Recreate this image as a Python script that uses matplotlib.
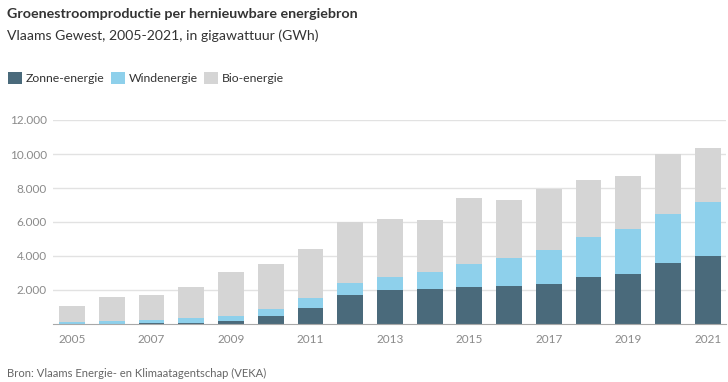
import matplotlib.pyplot as plt
from matplotlib.patches import Patch
import numpy as np

years = list(range(2005, 2022))
# GWh per bron
zonne = [10, 20, 30, 50, 170, 470, 960, 1730, 1980, 2060, 2180, 2240, 2350, 2740, 2960, 3590, 4020]
wind = [130, 180, 225, 300, 320, 430, 570, 700, 810, 1020, 1370, 1660, 2000, 2400, 2630, 2900, 3180]
bio = [920, 1370, 1455, 1830, 2570, 2650, 2880, 3550, 3410, 3040, 3860, 3420, 3610, 3330, 3100, 3490, 3150]

series = ['Zonne-energie', 'Windenergie', 'Bio-energie']
colors = ['#4a6a7b', '#8ed0eb', '#d5d5d5']

plt.rcParams['font.family'] = ['Lato', 'DejaVu Sans']

fig = plt.figure(figsize=(7.28, 3.82), dpi=100)
W, H = 728, 382
ax = fig.add_axes([53 / W, 1 - 324 / H, (726 - 53) / W, (324 - 120) / H])

x = np.array(years)
bottom = np.zeros(len(years))
for vals, c in zip([zonne, wind, bio], colors):
    ax.bar(x, vals, width=0.65, bottom=bottom, color=c, zorder=2)
    bottom += np.array(vals)

ax.set_xlim(2004.52, 2021.46)
ax.set_ylim(0, 12000)
ax.set_yticks([2000, 4000, 6000, 8000, 10000, 12000])
ax.set_yticklabels(['2.000', '4.000', '6.000', '8.000', '10.000', '12.000'])
ax.set_xticks(years[::2])
ax.grid(axis='y', color='#e2e2e2', linewidth=1, zorder=0)
for s in ['top', 'right', 'left']:
    ax.spines[s].set_visible(False)
ax.spines['bottom'].set_color('#a8a8a8')
ax.tick_params(axis='both', length=0, labelsize=8.5, labelcolor='#8a8a8a')
ax.tick_params(axis='y', pad=4.5)
ax.tick_params(axis='x', pad=7)

fig.text(7 / W, 1 - 14 / H, 'Groenestroomproductie per hernieuwbare energiebron',
         fontsize=10.3, fontweight='bold', color='#333333', va='center')
fig.text(7 / W, 1 - 36 / H, 'Vlaams Gewest, 2005-2021, in gigawattuur (GWh)',
         fontsize=10.1, color='#333333', va='center')
fig.text(7 / W, 1 - 373 / H, 'Bron: Vlaams Energie- en Klimaatagentschap (VEKA)',
         fontsize=8.1, color='#666666', va='center')

handles = [Patch(facecolor=c, edgecolor='none') for c in colors]
fig.legend(handles, series, loc='center left', bbox_to_anchor=(-1 / W, 1 - 78 / H),
           ncol=3, frameon=False, fontsize=8.8, handlelength=1.15, handleheight=1.15,
           handletextpad=0.3, columnspacing=0.55, borderaxespad=0.3,
           labelcolor='#333333')

fig.savefig('out.png', dpi=100)
